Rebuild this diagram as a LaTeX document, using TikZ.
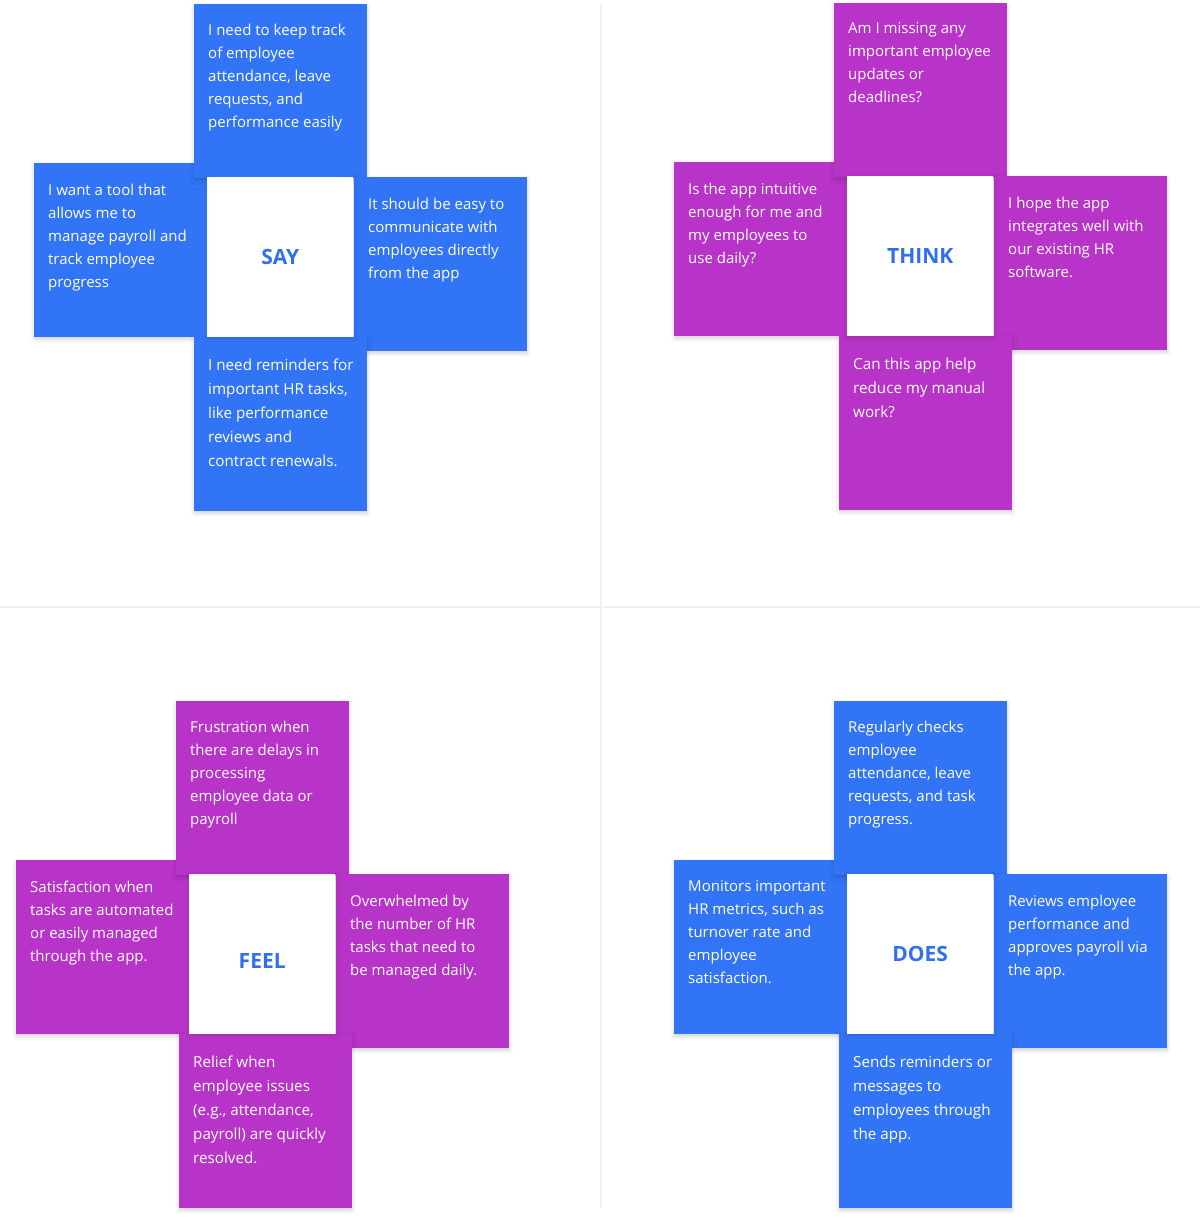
\documentclass[tikz,border=0pt]{standalone}
\usepackage{fontspec}
\setmainfont{Open Sans}
\usetikzlibrary{shadows.blur}
\definecolor{emblue}{RGB}{50,116,246}
\definecolor{empurple}{RGB}{184,51,199}
\definecolor{emlabel}{RGB}{47,111,240}
\definecolor{emrule}{RGB}{239,240,244}
\tikzset{
  card/.style={anchor=north west, minimum width=173pt, minimum height=174pt,
    inner sep=0pt, blur shadow={shadow xshift=0pt, shadow yshift=-2pt,
    shadow blur radius=4pt, shadow opacity=18}},
  cardtext/.style={anchor=north west, inner sep=0pt, align=left, text=white,
    font=\fontsize{15}{23}\selectfont, execute at begin node={\rule{0pt}{12pt}}},
  lowtext/.style={cardtext, font=\fontsize{15.2}{24}\selectfont},
  hub/.style={anchor=north west, fill=white, minimum width=146pt,
    minimum height=160pt, inner sep=0pt, blur shadow={shadow xshift=0pt,
    shadow yshift=-1pt, shadow blur radius=3pt, shadow opacity=12}},
  hublabel/.style={text=emlabel, inner sep=0pt, font=\fontsize{21}{24}\selectfont\bfseries}
}

\begin{document}
\begin{tikzpicture}[x=1pt, y=-1pt]
    \useasboundingbox (0,0) rectangle (1200,1227);
    % quadrant rules
    \coordinate (vtop) at (601,4);
    \coordinate (vbot) at (601,1208);
    \coordinate (hleft) at (0,607);
    \coordinate (hright) at (1200,607);
    \draw[emrule, line width=2pt] (vtop) -- (vbot);
    \draw[emrule, line width=2pt] (hleft) -- (hright);

    % SAY
    \node[card, fill=emblue] (sayleft) at (34,163) {};
    \node[card, fill=emblue] (saytop) at (194,4) {};
    \node[card, fill=emblue] (sayright) at (354,177) {};
    \node[card, fill=emblue] (saybot) at (194,337) {};
    \node[hub] (sayhub) at (207,177) {};
    \node[hublabel] (saylbl) at (sayhub.center) {SAY};
    \node[cardtext] (saytopt) at ([shift={(14,19.5)}]saytop.north west)
      {I need to keep track\\of employee\\attendance, leave\\requests, and\\performance easily};
    \node[cardtext] (saylefttt) at ([shift={(14,20.5)}]sayleft.north west)
      {I want a tool that\\allows me to\\manage payroll and\\track employee\\progress};
    \node[cardtext] (sayrightt) at ([shift={(14,20.5)}]sayright.north west)
      {It should be easy to\\communicate with\\employees directly\\from the app};
    \node[lowtext] (saybott) at ([shift={(14,21.5)}]saybot.north west)
      {I need reminders for\\important HR tasks,\\like performance\\reviews and\\contract renewals.};

    % THINK
    \node[card, fill=empurple] (thinkleft) at (674,162) {};
    \node[card, fill=empurple] (thinktop) at (834,3) {};
    \node[card, fill=empurple] (thinkright) at (994,176) {};
    \node[card, fill=empurple] (thinkbot) at (839,336) {};
    \node[hub] (thinkhub) at (847,176) {};
    \node[hublabel] (thinklbl) at (thinkhub.center) {THINK};
    \node[cardtext] (thinktopt) at ([shift={(14,19.5)}]thinktop.north west)
      {Am I missing any\\important employee\\updates or\\deadlines?};
    \node[cardtext] (thinkleftt) at ([shift={(14,20.5)}]thinkleft.north west)
      {Is the app intuitive\\enough for me and\\my employees to\\use daily?};
    \node[cardtext] (thinkrightt) at ([shift={(14,20.5)}]thinkright.north west)
      {I hope the app\\integrates well with\\our existing HR\\software.};
    \node[lowtext] (thinkbott) at ([shift={(14,21.5)}]thinkbot.north west)
      {Can this app help\\reduce my manual\\work?};

    % FEEL
    \node[card, fill=empurple] (feelleft) at (16,860) {};
    \node[card, fill=empurple] (feeltop) at (176,701) {};
    \node[card, fill=empurple] (feelright) at (336,874) {};
    \node[card, fill=empurple] (feelbot) at (179,1034) {};
    \node[hub] (feelhub) at (189,874) {};
    \node[hublabel] (feellbl) at ([yshift=-7pt]feelhub.center) {FEEL};
    \node[cardtext] (feeltopt) at ([shift={(14,19.5)}]feeltop.north west)
      {Frustration when\\there are delays in\\processing\\employee data or\\payroll};
    \node[cardtext] (feelleftt) at ([shift={(14,20.5)}]feelleft.north west)
      {Satisfaction when\\tasks are automated\\or easily managed\\through the app.};
    \node[cardtext] (feelrightt) at ([shift={(14,20.5)}]feelright.north west)
      {Overwhelmed by\\the number of HR\\tasks that need to\\be managed daily.};
    \node[lowtext] (feelbott) at ([shift={(14,21.5)}]feelbot.north west)
      {Relief when\\employee issues\\(e.g., attendance,\\payroll) are quickly\\resolved.};

    % DOES
    \node[card, fill=emblue] (doesleft) at (674,860) {};
    \node[card, fill=emblue] (doestop) at (834,701) {};
    \node[card, fill=emblue] (doesright) at (994,874) {};
    \node[card, fill=emblue] (doesbot) at (839,1034) {};
    \node[hub] (doeshub) at (847,874) {};
    \node[hublabel] (doeslbl) at (doeshub.center) {DOES};
    \node[cardtext] (doestopt) at ([shift={(14,19.5)}]doestop.north west)
      {Regularly checks\\employee\\attendance, leave\\requests, and task\\progress.};
    \node[cardtext] (doesleftt) at ([shift={(14,20.5)}]doesleft.north west)
      {Monitors important\\HR metrics, such as\\turnover rate and\\employee\\satisfaction.};
    \node[cardtext] (doesrightt) at ([shift={(14,20.5)}]doesright.north west)
      {Reviews employee\\performance and\\approves payroll via\\the app.};
    \node[lowtext] (doesbott) at ([shift={(14,21.5)}]doesbot.north west)
      {Sends reminders or\\messages to\\employees through\\the app.};
  \end{tikzpicture}
\end{document}
